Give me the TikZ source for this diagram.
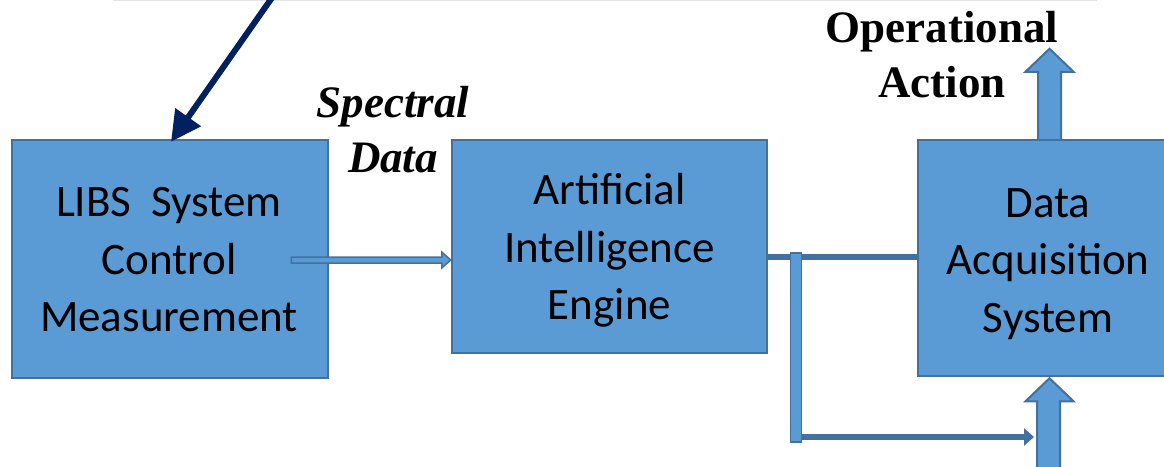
\documentclass[tikz,border=0pt]{standalone}
\usepackage{fontspec}
\setmainfont{Liberation Serif}
\newfontfamily\boxfont{Carlito}
\usetikzlibrary{arrows.meta,calc}
\definecolor{boxfill}{RGB}{91,155,213}
\definecolor{boxline}{RGB}{65,113,156}
\definecolor{navyblue}{RGB}{0,32,96}
\tikzset{
  blockbox/.style={draw=boxline, line width=2.5pt, fill=boxfill, inner sep=0pt},
  boxtext/.style={font=\boxfont\fontsize{45}{57.5}\selectfont, align=center, inner sep=0pt},
  lbl/.style={font=\fontsize{45}{55}\selectfont\bfseries, align=center, inner sep=0pt},
  conn/.style={draw=boxline, line width=6pt},
  blockarrow/.style={draw=boxline, line width=2pt, fill=boxfill, line join=miter},
}
\begin{document}
\begin{tikzpicture}[x=1pt,y=-1pt]
\useasboundingbox (0,0) rectangle (1164,466);
\begin{scope}
\clip (0,0) rectangle (1164,466);
\draw[black!10, line width=1pt] (113,0.5) -- (1097,0.5);

\node[blockbox, minimum width=316pt, minimum height=238pt] (b1) at (170,259) {};
\node[blockbox, minimum width=315pt, minimum height=213pt] (b2) at (609.5,246.5) {};
\node[blockbox, minimum width=260pt, minimum height=236pt] (b3) at (1048,258) {};
\node[boxtext] (t1) at ($(b1.center)+(-1,1)$) {LIBS~~System\\Control\\Measurement};
\node[boxtext] (t2) at ($(b2.center)+(0,4)$) {Artificial\\Intelligence\\Engine};
\node[boxtext] (t3) at ($(b3.center)+(0,6)$) {Data\\Acquisition\\System};

\node[lbl, font=\fontsize{45}{55}\selectfont\bfseries\itshape] (spec) at (393,130) {Spectral\\Data};
\node[lbl] (op) at (942,55) {Operational\\Action};

% incoming control arrow
\coordinate (src) at (276,-8);
\draw[navyblue, line width=6pt, -{Triangle[length=30pt,width=30pt]}] (src) -- ([xshift=1pt,yshift=-3pt]b1.north);

% spectral data arrow (outlined)
\coordinate (s0) at ($(b1.east)+(-38,1)$);
\coordinate (s1) at (s0 -| b2.west);
\draw[blockarrow, line width=1.5pt]
  ($(s0)+(0,-3)$) -- ($(s1)+(-9,-3)$) -- ($(s1)+(-9,-8)$)
  -- (s1) -- ($(s1)+(-9,8)$) -- ($(s1)+(-9,3)$)
  -- ($(s0)+(0,3)$) -- cycle;

% engine to acquisition
\coordinate (j) at (796,257);
\draw[conn] (b2.east |- j) -- (b3.west |- j);
\coordinate (jb) at (796,437);
\coordinate (tipb) at (1034,437);
\draw[conn, -{Triangle[length=10pt,width=17pt]}] (jb) -- (tipb);
\draw[blockarrow, line width=1.5pt] ($(j)+(-5.5,-4)$) rectangle ($(jb)+(5.5,5)$);

% bottom up block arrow into acquisition
\draw[blockarrow] ($(b3.south)+(-11,95)$) -- ($(b3.south)+(-11,24)$) -- ($(b3.south)+(-22.5,24)$)
  -- ($(b3.south)+(1.5,1)$) -- ($(b3.south)+(25.5,24)$) -- ($(b3.south)+(12,24)$)
  -- ($(b3.south)+(12,95)$);
% top up block arrow out of acquisition
\draw[blockarrow] ($(b3.north)+(-10,0)$) -- ($(b3.north)+(-10,-67)$) -- ($(b3.north)+(-22.5,-67)$)
  -- ($(b3.north)+(1.5,-90)$) -- ($(b3.north)+(25.5,-67)$) -- ($(b3.north)+(13,-67)$)
  -- ($(b3.north)+(13,0)$);
\end{scope}
\end{tikzpicture}
\end{document}
